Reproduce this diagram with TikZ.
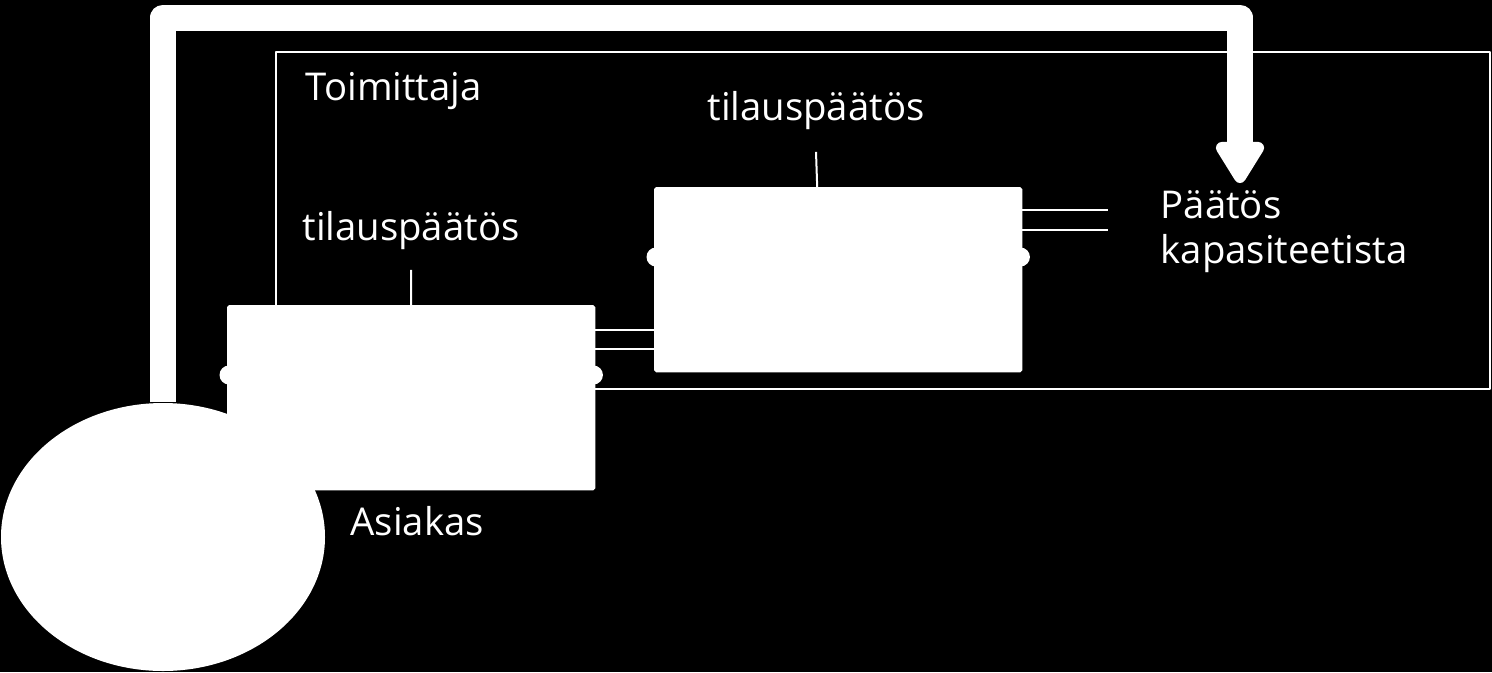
\documentclass[tikz,border=0pt]{standalone}
\usepackage{fontspec}
\setmainfont{Open Sans}
\usetikzlibrary{arrows.meta,shapes.geometric,positioning}

\begin{document}
\begin{tikzpicture}[line join=round]
        \tikzstyle{laatikko}=[draw=white,fill=white,rounded corners=0.5pt,minimum width=3.67cm,minimum height=1.84cm,inner sep=0pt]
        \tikzstyle{nuppi}=[circle,fill=white,minimum size=0.19cm,inner sep=0pt]
        \tikzstyle{teksti}=[text=white,font=\fontsize{10.9}{13}\selectfont,inner sep=0pt,anchor=base west]
        \tikzstyle{ohut}=[draw=white,line width=0.02cm]

        % Black background
        \fill[black] (0,0) rectangle (14.92,-6.72);
        \useasboundingbox (0,0) rectangle (14.92,-6.72);

        % Draw the supplier frame
        \node[ohut, minimum width=12.14cm, minimum height=3.37cm, anchor=north west, inner sep=0pt] (toimittaja) at (2.75,-0.51) {};
        \node[teksti] (toimittaja-nimi) at (3.05,-1.00) {Toimittaja};

        % Draw the customer
        \node[ellipse, fill=white, minimum width=3.24cm, minimum height=2.68cm, inner sep=0pt] (asiakas) at (1.63,-5.37) {};
        \node[teksti] (asiakas-nimi) at (3.50,-5.35) {Asiakas};

        % Draw the two order decision boxes
        \node[laatikko, anchor=north west] (tilaus-1) at (2.27,-3.05) {};
        \node[laatikko, anchor=north west] (tilaus-2) at (6.54,-1.87) {};
        \foreach \b in {1,2} {
            \node[nuppi] (nuppi-\b-l) at ([xshift=0.02cm, yshift=-0.70cm]tilaus-\b.north west) {};
            \node[nuppi] (nuppi-\b-r) at ([xshift=-0.02cm, yshift=-0.70cm]tilaus-\b.north east) {};
        }
        \node[teksti, anchor=base] (otsikko-1) at (4.11,-2.40) {tilauspäätös};
        \node[teksti, anchor=base] (otsikko-2) at (8.16,-1.20) {tilauspäätös};
        \draw[ohut] (tilaus-1.north) -- ([yshift=-0.20cm]otsikko-1.south);
        \draw[ohut] ([xshift=-0.21cm]tilaus-2.north) -- ([yshift=-0.22cm]otsikko-2.south);

        % Double lines between the boxes
        \foreach \d in {0.25,0.44}
            \draw[ohut] ([yshift=-\d cm]tilaus-1.north east) -- ([yshift=-\d cm]tilaus-1.north east -| tilaus-2.west);

        % Capacity decision
        \node[teksti] (paatos-1) at (11.60,-2.18) {Päätös};
        \node[teksti] (paatos-2) at (11.60,-2.63) {kapasiteetista};
        \coordinate (paatos-reuna) at ([xshift=-0.52cm]paatos-1.west);
        \foreach \d in {0.23,0.43}
            \draw[ohut] ([yshift=-\d cm]tilaus-2.north east) -- ([yshift=-\d cm]tilaus-2.north east -| paatos-reuna);

        % Thick feedback arrow
        \coordinate (kulma) at (12.40,-0.175);
        \coordinate (kohde) at (12.40,-1.83);
        \draw[white, line width=0.26cm, -{Triangle[round, length=0.47cm, width=0.54cm]}]
            (asiakas.north) |- (kulma) -- (kohde);
    \end{tikzpicture}
\end{document}
